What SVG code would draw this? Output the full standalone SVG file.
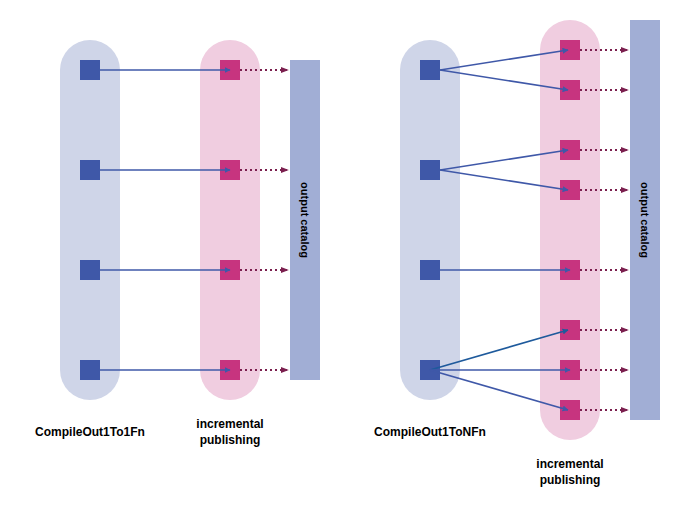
<svg xmlns="http://www.w3.org/2000/svg" width="680" height="506" viewBox="0 0 680 506">
<defs>
<marker id="a" viewBox="0 0 10 10" refX="9" refY="5" markerWidth="6" markerHeight="6" orient="auto" markerUnits="userSpaceOnUse"><path d="M0,0L10,5L0,10z" fill="#3f58a8"/></marker>
<marker id="a2" viewBox="0 0 10 10" refX="9" refY="5" markerWidth="6" markerHeight="6" orient="auto" markerUnits="userSpaceOnUse"><path d="M0,0L10,5L0,10z" fill="#1e5a9c"/></marker>
<marker id="d" viewBox="0 0 10 10" refX="9" refY="5" markerWidth="8" markerHeight="8" orient="auto" markerUnits="userSpaceOnUse"><path d="M0,1L10,5L0,9z" fill="#7b1f4e"/></marker>
</defs>
<style>
.bc{fill:#cfd5e8}.pc{fill:#f0cde0}.bs{fill:#3f58a8}.ps{fill:#c7347f}.cat{fill:#a1aed5}
.ar{stroke:#3f58a8;stroke-width:1.6;fill:none;marker-end:url(#a)}
.dt{stroke:#7b1f4e;stroke-width:2;stroke-dasharray:2,3;fill:none;marker-end:url(#d)}
text{font-family:"Liberation Sans",Arial,sans-serif;font-weight:bold;font-size:12px;fill:#000}
</style>
<g id="left-compile"><rect class="bc" x="60" y="40" width="60" height="360" rx="30"/>
<rect class="bs" x="80" y="60" width="20" height="20"/><rect class="bs" x="80" y="160" width="20" height="20"/><rect class="bs" x="80" y="260" width="20" height="20"/><rect class="bs" x="80" y="360" width="20" height="20"/></g>
<g id="left-publish"><rect class="pc" x="200" y="40" width="60" height="360" rx="30"/>
<rect class="ps" x="220" y="60" width="20" height="20"/><rect class="ps" x="220" y="160" width="20" height="20"/><rect class="ps" x="220" y="260" width="20" height="20"/><rect class="ps" x="220" y="360" width="20" height="20"/></g>
<g id="left-catalog"><rect class="cat" x="290" y="60" width="30" height="320"/><text transform="translate(301,220) rotate(90)" text-anchor="middle" font-size="11" style="font-size:11px">output catalog</text></g>
<g id="right-compile"><rect class="bc" x="400" y="40" width="60" height="360" rx="30"/>
<rect class="bs" x="420" y="60" width="20" height="20"/><rect class="bs" x="420" y="160" width="20" height="20"/><rect class="bs" x="420" y="260" width="20" height="20"/><rect class="bs" x="420" y="360" width="20" height="20"/></g>
<g id="right-publish"><rect class="pc" x="540" y="20" width="60" height="420" rx="30"/>
<rect class="ps" x="560" y="40" width="20" height="20"/><rect class="ps" x="560" y="80" width="20" height="20"/><rect class="ps" x="560" y="140" width="20" height="20"/><rect class="ps" x="560" y="180" width="20" height="20"/><rect class="ps" x="560" y="260" width="20" height="20"/><rect class="ps" x="560" y="320" width="20" height="20"/><rect class="ps" x="560" y="360" width="20" height="20"/><rect class="ps" x="560" y="400" width="20" height="20"/></g>
<g id="right-catalog"><rect class="cat" x="630" y="20" width="30" height="400"/><text transform="translate(641,220) rotate(90)" text-anchor="middle" style="font-size:11px">output catalog</text></g>
<g id="connectors">
<line class="ar" x1="100" y1="70" x2="230" y2="70"/><line class="ar" x1="100" y1="170" x2="230" y2="170"/><line class="ar" x1="100" y1="270" x2="230" y2="270"/><line class="ar" x1="100" y1="370" x2="230" y2="370"/>
<line class="dt" x1="240" y1="70" x2="288" y2="70"/><line class="dt" x1="240" y1="170" x2="288" y2="170"/><line class="dt" x1="240" y1="270" x2="288" y2="270"/><line class="dt" x1="240" y1="370" x2="288" y2="370"/>
<line class="ar" x1="440" y1="70" x2="568" y2="50"/><line class="ar" x1="440" y1="70" x2="568" y2="90"/>
<line class="ar" x1="440" y1="170" x2="568" y2="150"/><line class="ar" x1="440" y1="170" x2="568" y2="190"/>
<line class="ar" x1="440" y1="270" x2="570" y2="270"/>
<line x1="430" y1="370" x2="568" y2="330" style="stroke:#1e5a9c;stroke-width:1.6;marker-end:url(#a2)"/>
<line class="ar" x1="430" y1="370" x2="570" y2="370"/><line class="ar" x1="430" y1="370" x2="568" y2="410"/>
<line class="dt" x1="580" y1="50" x2="628" y2="50"/><line class="dt" x1="580" y1="90" x2="628" y2="90"/><line class="dt" x1="580" y1="150" x2="628" y2="150"/><line class="dt" x1="580" y1="190" x2="628" y2="190"/><line class="dt" x1="580" y1="270" x2="628" y2="270"/><line class="dt" x1="580" y1="330" x2="628" y2="330"/><line class="dt" x1="580" y1="370" x2="628" y2="370"/><line class="dt" x1="580" y1="410" x2="628" y2="410"/>
</g>
<g id="labels">
<text x="90" y="436" text-anchor="middle">CompileOut1To1Fn</text>
<text x="230" y="428" text-anchor="middle">incremental</text><text x="230" y="444" text-anchor="middle">publishing</text>
<text x="430" y="436" text-anchor="middle">CompileOut1ToNFn</text>
<text x="570" y="468" text-anchor="middle">incremental</text><text x="570" y="484" text-anchor="middle">publishing</text>
</g>
</svg>
